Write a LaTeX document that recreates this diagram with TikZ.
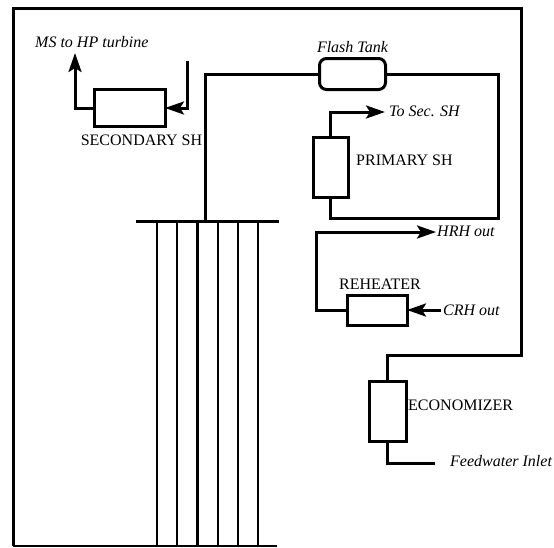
\documentclass[tikz,border=0pt]{standalone}
\usepackage{fontspec}
\setmainfont{Liberation Serif}
\usetikzlibrary{arrows.meta, positioning}

\begin{document}
\begin{tikzpicture}[
    x=1pt,
    y=-1pt,
    >={Stealth[length=19pt, width=13pt, inset=4pt]},
    exchanger/.style={
        rectangle,
        draw=black,
        line width=3pt,
        outer sep=0pt,
        inner sep=0pt
    },
    pipe/.style={
        line width=3pt,
        line join=miter
    },
    tube/.style={
        line width=2.8pt
    },
    namelabel/.style={
        font=\fontsize{16}{19}\selectfont,
        inner sep=0pt
    },
    flowlabel/.style={
        font=\fontsize{16}{19}\selectfont\itshape,
        anchor=west,
        inner sep=0pt
    }
]
\useasboundingbox (0,0) rectangle (554,547);

% Heat exchangers
\node[exchanger, minimum width=71pt, minimum height=37pt] (secondary) at (129.5,108) {};
\node[exchanger, minimum width=35pt, minimum height=60pt] (primary) at (330.5,167) {};
\node[exchanger, minimum width=60pt, minimum height=30pt] (reheater) at (377,310) {};
\node[exchanger, minimum width=37pt, minimum height=60pt] (economizer) at (387.5,411) {};
\node[exchanger, rounded corners=7pt, minimum width=66pt, minimum height=31pt] (flash) at (352.5,74) {};

% Furnace headers and free pipe ends
\coordinate (topleft) at (136,221);
\coordinate (topright) at (279,221);
\coordinate (botleft) at (13,546);
\coordinate (botright) at (277,546);
\coordinate (riser) at (205.5,221);
\coordinate (msend) at (75,53);
\coordinate (secin) at (187,61);
\coordinate (framene) at (521.5,8);
\coordinate (framesw) at (13,8);
\coordinate (flashturn) at (498,74);
\coordinate (priturn) at (498,218);
\coordinate (toend) at (385,112);
\coordinate (hrhcorner) at (316,232);
\coordinate (hrhend) at (436,232);
\coordinate (crhstart) at (441,310);
\coordinate (ecoturn) at (521.5,355);
\coordinate (feedend) at (435,463);

% Labels
\node[namelabel, below=8pt of secondary, xshift=12pt] (secondarytext) {SECONDARY SH};
\node[namelabel, anchor=west] (primarytext) at (356,160) {PRIMARY SH};
\node[namelabel, above=5pt of reheater, xshift=3pt] (reheatertext) {REHEATER};
\node[namelabel, anchor=west] (economizertext) at (408,405) {ECONOMIZER};
\node[flowlabel] (mstext) at (35,42) {MS to HP turbine};
\node[flowlabel, above=6pt of flash, anchor=south] (flashtext) {Flash Tank};
\node[flowlabel] (totext) at (389,111) {To Sec. SH};
\node[flowlabel] (hrhtext) at (437,231) {HRH out};
\node[flowlabel] (crhtext) at (443,310) {CRH out};
\node[flowlabel] (feedtext) at (450,461) {Feedwater Inlet};

% Furnace tubes
\draw[pipe] (topleft) -- (topright);
\draw[tube, line width=2pt] (botleft) -- (botright);
\foreach \tubex in {157,177,197.5,218,238,258} {
    \coordinate (tubetop) at (\tubex,221);
    \coordinate (tubebot) at (\tubex,546);
    \draw[tube] (tubetop) -- (tubebot);
}

% Steam and water flow
\draw[pipe] (riser) |- (flash.west);
\draw[pipe] (flash.east) -- (flashturn) -- (priturn) -| (primary.south);
\draw[pipe, ->] (primary.north) |- (toend);
\draw[pipe, ->] (secin) |- (secondary.east);
\draw[pipe, ->] (secondary.west) -| (msend);
\draw[pipe, ->] (reheater.west) -| (hrhcorner) -- (hrhend);
\draw[pipe, ->] (crhstart) -- (reheater.east);
\draw[pipe] (economizer.north) |- (ecoturn) -- (framene) -- (framesw) -- (botleft);
\draw[pipe] (economizer.south) |- (feedend);

\end{tikzpicture}
\end{document}
